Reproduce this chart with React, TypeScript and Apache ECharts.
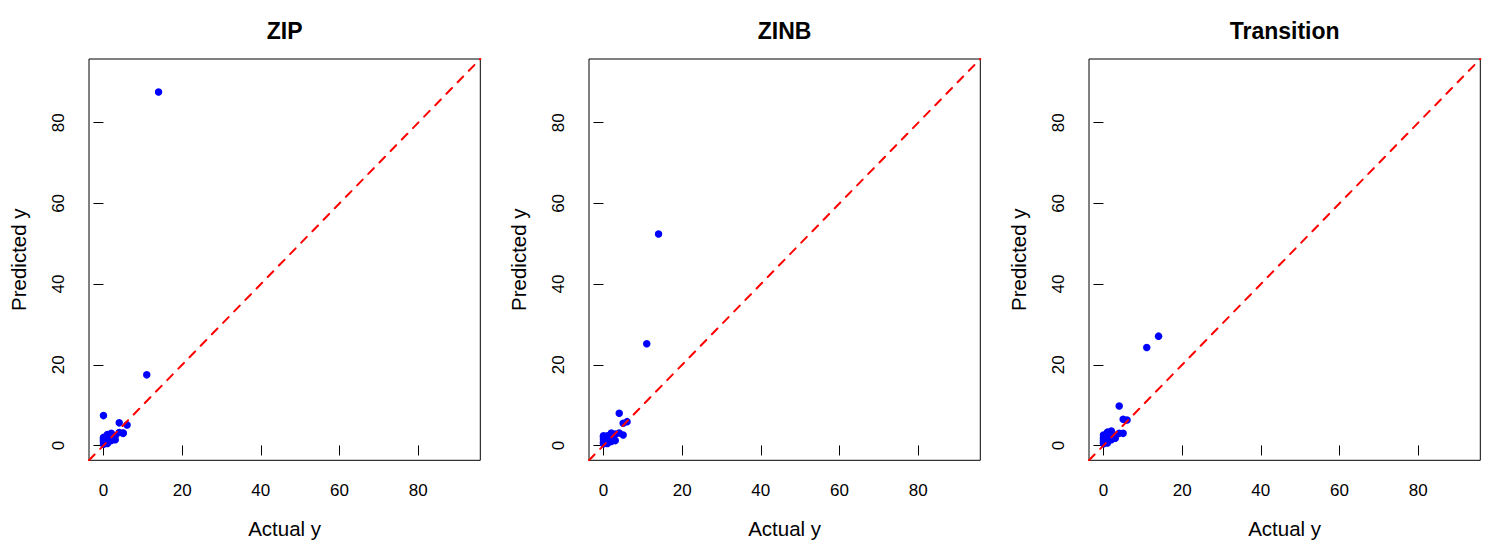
import React, { useEffect, useRef } from "react";
import * as echarts from "echarts";

// ---- data ----
const PANEL_TITLES = ["ZIP", "ZINB", "Transition"];
const TICK_VALUES = [0, 20, 40, 60, 80];
const AXIS_MIN = -3.68;
const AXIS_MAX = 95.8;

const ACTUAL_Y = [14, 11, 4, 6, 5, 4, 5, 0, 0, 0, 0, 0, 0, 1, 1, 1, 1, 1, 2, 2, 2, 2, 3, 3, 1, 0];
const PRED_ZIP = [87.6, 17.5, 5.6, 5.1, 3.1, 3.2, 3.0, 7.4, 0.3, 0.8, 1.4, 2.0, 1.1, 0.5, 1.0, 1.6, 2.2, 2.7, 1.2, 1.8, 2.5, 3.0, 1.4, 2.4, 1.3, 1.7];
const PRED_ZINB = [52.4, 25.2, 8.0, 5.9, 5.5, 3.1, 2.6, 2.4, 0.4, 0.9, 1.5, 2.2, 0.6, 0.5, 1.1, 1.7, 2.4, 2.0, 1.0, 1.9, 2.6, 3.1, 1.2, 2.8, 1.4, 1.9];
const PRED_TRANSITION = [27.1, 24.3, 9.8, 6.3, 6.5, 3.0, 3.0, 2.0, 0.4, 1.0, 1.6, 2.6, 0.7, 0.6, 1.3, 2.0, 2.8, 3.3, 1.4, 2.1, 3.0, 3.6, 1.8, 2.5, 1.5, 1.3];

const PREDICTIONS = [PRED_ZIP, PRED_ZINB, PRED_TRANSITION];

const FONT = "'Liberation Sans', Arial, Helvetica, sans-serif";

export default function App() {
  const ref = useRef<HTMLDivElement>(null);

  useEffect(() => {
    if (!ref.current) return;
    const chart = echarts.init(ref.current, undefined, { renderer: "svg" });

    const panelLeft = (i: number) => 89 + 500 * i;
    const plotW = 391.3;
    const plotH = 401.3;
    const plotTop = 59;

    const grids = PANEL_TITLES.map((_, i) => ({
      left: panelLeft(i),
      top: plotTop,
      width: plotW,
      height: plotH,
      show: true,
      borderColor: "#000",
      borderWidth: 1,
      backgroundColor: "transparent",
      containLabel: false,
    }));

    const xAxes = PANEL_TITLES.map((_, i) => ({
      type: "value",
      gridIndex: i,
      min: AXIS_MIN,
      max: AXIS_MAX,
      axisLine: { show: false },
      splitLine: { show: false },
      axisTick: {
        show: true,
        inside: false,
        length: 10,
        customValues: TICK_VALUES,
        lineStyle: { color: "#000", width: 1 },
      },
      axisLabel: {
        show: true,
        customValues: TICK_VALUES,
        margin: 22,
        fontSize: 17,
        color: "#000",
        fontFamily: FONT,
      },
      name: "Actual y",
      nameLocation: "middle",
      nameGap: 58,
      nameTextStyle: { fontSize: 20.5, color: "#000", fontFamily: FONT },
    }));

    const yAxes = PANEL_TITLES.map((_, i) => ({
      type: "value",
      gridIndex: i,
      min: AXIS_MIN,
      max: AXIS_MAX,
      axisLine: { show: false },
      splitLine: { show: false },
      axisTick: {
        show: true,
        inside: false,
        length: 10,
        customValues: TICK_VALUES,
        lineStyle: { color: "#000", width: 1 },
      },
      axisLabel: {
        show: true,
        customValues: TICK_VALUES,
        rotate: 90,
        margin: 22,
        fontSize: 17,
        color: "#000",
        fontFamily: FONT,
      },
      name: "Predicted y",
      nameLocation: "middle",
      nameRotate: 90,
      nameGap: 60,
      nameTextStyle: { fontSize: 20.5, color: "#000", fontFamily: FONT },
    }));

    const series: any[] = [];
    PANEL_TITLES.forEach((_, i) => {
      series.push({
        type: "scatter",
        xAxisIndex: i,
        yAxisIndex: i,
        symbol: "circle",
        symbolSize: 7.5,
        itemStyle: { color: "#0000FF", opacity: 1 },
        data: ACTUAL_Y.map((a, k) => [a, PREDICTIONS[i][k]]),
        z: 2,
      });
      series.push({
        type: "line",
        xAxisIndex: i,
        yAxisIndex: i,
        symbol: "none",
        silent: true,
        lineStyle: { color: "#FF0000", width: 2, type: [8, 8], cap: "round" },
        data: [
          [AXIS_MIN, AXIS_MIN],
          [AXIS_MAX, AXIS_MAX],
        ],
        z: 3,
      });
    });

    const graphic = PANEL_TITLES.map((t, i) => ({
      type: "text",
      silent: true,
      style: {
        text: t,
        x: panelLeft(i) + plotW / 2,
        y: 30.5,
        align: "center",
        verticalAlign: "middle",
        font: `bold 23px ${FONT}`,
        fill: "#000",
      },
    }));

    chart.setOption({
      animation: false,
      backgroundColor: "#fff",
      grid: grids,
      xAxis: xAxes,
      yAxis: yAxes,
      series,
      graphic,
    });

    return () => chart.dispose();
  }, []);

  return (
    <div
      ref={ref}
      style={{ position: "fixed", left: 0, top: 0, width: 1500, height: 550 }}
    />
  );
}
